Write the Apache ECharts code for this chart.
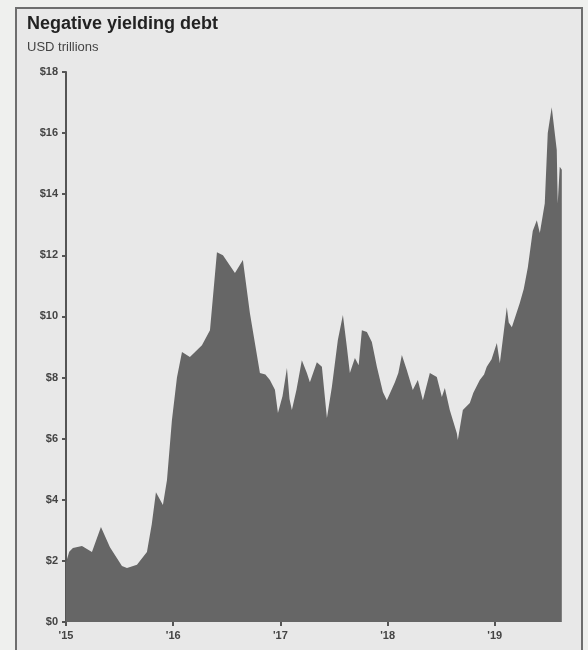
<!DOCTYPE html>
<html lang="en" style="height: 100%">
  <head>
    <meta charset="utf-8" />
  </head>
  <body style="height: 100%; margin: 0">
    <div id="container" style="width: 588px; height: 650px"></div>

    <script
      type="text/javascript"
      src="https://fastly.jsdelivr.net/npm/echarts@6/dist/echarts.min.js"
    ></script>

    <script type="text/javascript">
      // decimal years
      var years = [
        2015.0, 2015.03, 2015.065, 2015.149, 2015.242, 2015.326, 2015.41,
        2015.522, 2015.569, 2015.662, 2015.755, 2015.8, 2015.839, 2015.904,
        2015.942, 2015.988, 2016.035, 2016.082, 2016.156, 2016.268, 2016.343,
        2016.408, 2016.464, 2016.576, 2016.65, 2016.716, 2016.809, 2016.86,
        2016.902, 2016.949, 2016.977, 2017.02, 2017.061, 2017.085, 2017.107,
        2017.15, 2017.2, 2017.247, 2017.275, 2017.34, 2017.387, 2017.434,
        2017.48, 2017.536, 2017.583, 2017.62, 2017.648, 2017.695, 2017.73,
        2017.76, 2017.807, 2017.853, 2017.9, 2017.956, 2017.993, 2018.068,
        2018.1, 2018.133, 2018.179, 2018.235, 2018.282, 2018.329, 2018.394,
        2018.459, 2018.506, 2018.534, 2018.58, 2018.646, 2018.655, 2018.702,
        2018.767, 2018.8, 2018.86, 2018.9, 2018.925, 2018.97, 2019.019,
        2019.047, 2019.112, 2019.13, 2019.159, 2019.233, 2019.27, 2019.308,
        2019.354, 2019.392, 2019.42, 2019.466, 2019.494, 2019.531, 2019.578,
        2019.587, 2019.606, 2019.625
      ];
      // USD trillions
      var debt = [
        1.95, 2.3, 2.42, 2.49, 2.29, 3.11, 2.45,
        1.83, 1.77, 1.87, 2.29, 3.2, 4.25, 3.83,
        4.65, 6.6, 8.0, 8.84, 8.67, 9.06, 9.55,
        12.1, 12.0, 11.42, 11.85, 10.1, 8.15, 8.1,
        7.92, 7.6, 6.84, 7.4, 8.31, 7.3, 6.94,
        7.6, 8.57, 8.15, 7.85, 8.5, 8.35, 6.68,
        7.69, 9.23, 10.05, 9.0, 8.15, 8.64, 8.4,
        9.55, 9.49, 9.16, 8.35, 7.53, 7.26, 7.85,
        8.15, 8.74, 8.25, 7.59, 7.92, 7.26, 8.15,
        8.02, 7.36, 7.66, 6.94, 6.18, 5.96, 6.94,
        7.17, 7.5, 7.92, 8.1, 8.35, 8.6, 9.13,
        8.47, 10.3, 9.8, 9.65, 10.44, 10.9, 11.6,
        12.8, 13.15, 12.73, 13.7, 16.0, 16.85, 15.45,
        13.7, 14.9, 14.8
      ];

      var dom = document.getElementById("container");
      var myChart = echarts.init(dom, null, { renderer: "canvas" });
      var font = "Liberation Sans, Arial, sans-serif";

      var option = {
        backgroundColor: "#eff0ee",
        animation: false,
        graphic: [
          {
            type: "rect",
            z: -10,
            shape: { x: 16, y: 8, width: 566, height: 680 },
            style: { fill: "#e8e8e8", stroke: "#6e6e6e", lineWidth: 2 },
          },
        ],
        title: {
          text: "Negative yielding debt",
          subtext: "USD trillions",
          left: 22,
          top: 10,
          itemGap: 8,
          textStyle: {
            fontFamily: font,
            fontSize: 18,
            fontWeight: "bold",
            color: "#222",
          },
          subtextStyle: { fontFamily: font, fontSize: 13, color: "#444" },
        },
        // 2020 sits off the right edge so the data ends where the picture does
        grid: {
          left: 66,
          top: 72,
          width: 536,
          height: 550,
          outerBoundsMode: "none",
        },
        xAxis: {
          type: "value",
          min: 2015,
          max: 2020,
          interval: 1,
          splitLine: { show: false },
          axisLine: { show: false },
          axisTick: {
            show: true,
            length: 4,
            lineStyle: { color: "#555", width: 2 },
          },
          axisLabel: {
            margin: 8,
            fontFamily: font,
            fontSize: 11,
            fontWeight: "bold",
            color: "#444",
            formatter: function (v) {
              return v < 2020 ? "'" + (v - 2000) : "";
            },
          },
        },
        yAxis: {
          type: "value",
          min: 0,
          max: 18,
          interval: 2,
          splitLine: { show: false },
          axisLine: { show: true, lineStyle: { color: "#555", width: 2 } },
          axisTick: {
            show: true,
            length: 4,
            lineStyle: { color: "#555", width: 2 },
          },
          axisLabel: {
            margin: 8,
            fontFamily: font,
            fontSize: 11,
            fontWeight: "bold",
            color: "#444",
            formatter: function (v) {
              return "$" + v;
            },
          },
        },
        series: [
          {
            type: "line",
            data: years.map(function (y, i) {
              return [y, debt[i]];
            }),
            symbol: "none",
            lineStyle: { width: 0 },
            areaStyle: { color: "#666666", opacity: 1 },
            z: 1,
          },
        ],
      };

      myChart.setOption(option);
      window.addEventListener("resize", myChart.resize);
    </script>
  </body>
</html>
